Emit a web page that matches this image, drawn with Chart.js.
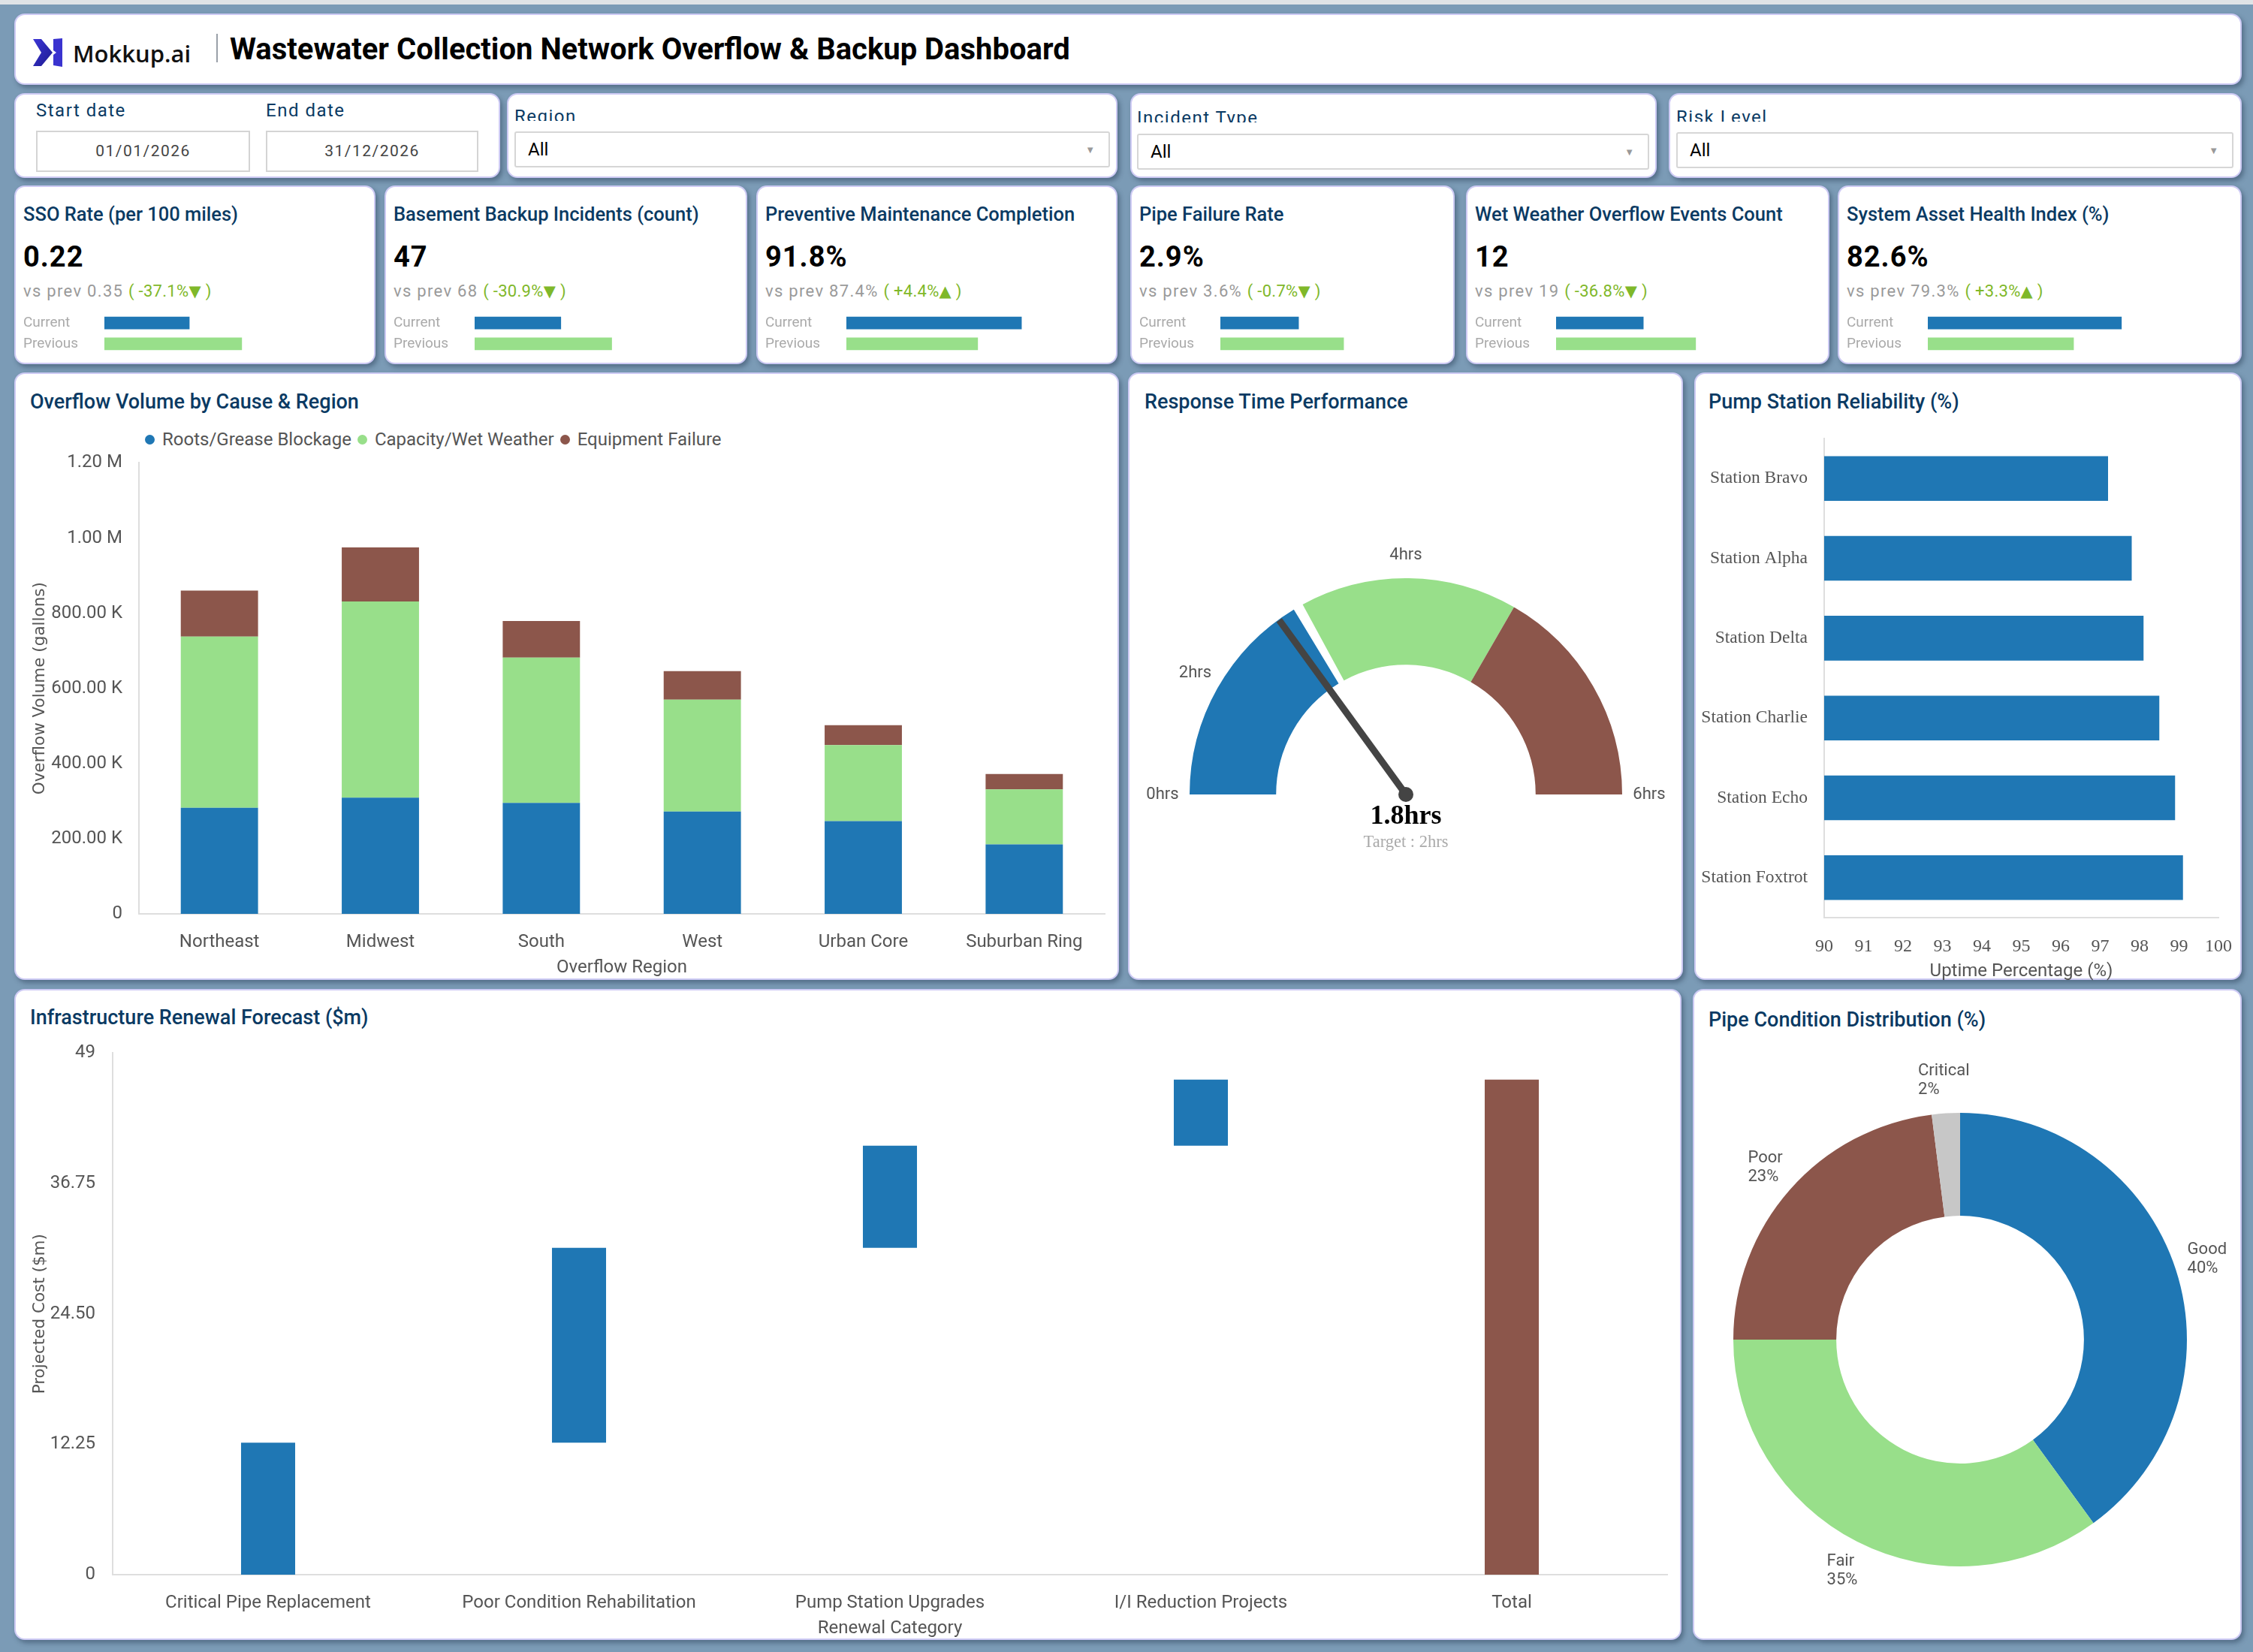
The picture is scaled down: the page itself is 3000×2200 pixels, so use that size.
<!DOCTYPE html>
<html>
<head>
<meta charset="utf-8">
<title>Wastewater Collection Network Overflow &amp; Backup Dashboard</title>
<script src="https://cdn.jsdelivr.net/npm/chart.js@4.4.1/dist/chart.umd.min.js"></script>
<style>
  body { margin: 0; width: 3000px; height: 2200px; position: relative; overflow: hidden;
         background: #7b9bb6; font-family: Roboto, sans-serif; }
  .strip { position: absolute; left: 0; top: 0; width: 3000px; height: 6px; background: #dfe3e6; }
  .card { position: absolute; box-sizing: border-box; background: #fff; border-radius: 14px;
          border: 2px solid #cdcaf4; box-shadow: 3px 4px 6px rgba(35, 55, 80, .45); }
  .title { position: absolute; font-size: 27px; line-height: 30px; font-weight: 500; color: #0a3a63; white-space: nowrap; }
  canvas { position: absolute; }
  .flabel { position: absolute; font-size: 24px; line-height: 28px; letter-spacing: 1.5px; color: #0a3a63; white-space: nowrap; }
  .clip { height: 17px; line-height: 23px; overflow: hidden; }
  .datebox { position: absolute; box-sizing: border-box; height: 55px; border: 2px solid #d4d4d4;
             font-size: 21px; letter-spacing: 1.5px; color: #444; text-align: center; line-height: 51px; }
  .select { position: absolute; box-sizing: border-box; height: 48px; border: 2px solid #d6d6d6; border-radius: 3px;
            font-size: 24px; line-height: 44px; padding-left: 16px; color: #000; }
  .select span { position: absolute; right: 18px; top: 1px; font-size: 13px; color: #999; }
  .k-title { position: absolute; left: 10px; top: 22px; font-size: 25.5px; line-height: 28px; font-weight: 500; color: #0a3a63; white-space: nowrap; }
  .k-value { position: absolute; left: 10px; top: 71px; font-size: 38px; line-height: 44px; font-weight: 700; color: #000; letter-spacing: 1px; }
  .k-prev { position: absolute; left: 10px; top: 126px; font-size: 22px; line-height: 26px; color: #9a9a9a; letter-spacing: 1.3px; white-space: nowrap; }
  .k-chg { color: #7fb82a; letter-spacing: 0.3px; }
  .k-chg b { font-family: 'DejaVu Sans'; font-weight: normal; font-size: 21px; }
  #overflowLegend { position: absolute; left: 189px; top: 571px; display: flex; align-items: center;
                    font-size: 24px; color: #555; white-space: nowrap; }
  #overflowLegend .dot { width: 13px; height: 13px; border-radius: 50%; margin: 0 10px 0 4px; }
  #overflowLegend .item { display: flex; align-items: center; margin-right: 4px; }
</style>
</head>
<body>
<div class="strip"></div>

<!-- header -->
<div class="card" style="left:19px; top:18px; width:2966px; height:95px;">
  <svg style="position:absolute; left:23px; top:31px;" width="40" height="38" viewBox="0 0 40 38">
    <defs>
      <linearGradient id="lg" x1="0" y1="0" x2="1" y2="1">
        <stop offset="0" stop-color="#3d36d6"/><stop offset="1" stop-color="#1c1a8f"/>
      </linearGradient>
    </defs>
    <path d="M0 1 L11 1 L26 19 L11 37 L0 37 L11 19 Z" fill="url(#lg)"/>
    <path d="M27 1 L39 0 L39 38 L27 36 L27 22 L31 19 L27 16 Z" fill="#3a33cf"/>
  </svg>
  <div style="position:absolute; left:76px; top:32px; font-family:'Open Sans'; font-weight:600; font-size:31px; line-height:38px; color:#111;">Mokkup.ai</div>
  <div style="position:absolute; left:267px; top:25px; width:2px; height:38px; background:#9aa0a8;"></div>
  <div style="position:absolute; left:285px; top:22px; font-size:40px; line-height:48px; font-weight:700; color:#000; white-space:nowrap;">Wastewater Collection Network Overflow &amp; Backup Dashboard</div>
</div>

<!-- filters -->
<div class="card" style="left:19px; top:124px; width:647px; height:113px;">
  <div class="flabel" style="left:27px; top:7px;">Start date</div>
  <div class="flabel" style="left:333px; top:7px;">End date</div>
  <div class="datebox" style="left:27px; top:48px; width:285px;">01/01/2026</div>
  <div class="datebox" style="left:333px; top:48px; width:283px;">31/12/2026</div>
</div>
<div class="card" style="left:675px; top:124px; width:813px; height:113px;">
  <div class="flabel clip" style="left:8px; top:18px;">Region</div>
  <div class="select" style="left:8px; top:49px; width:793px;">All<span>&#9660;</span></div>
</div>
<div class="card" style="left:1505px; top:124px; width:701px; height:113px;">
  <div class="flabel clip" style="left:7px; top:20px;">Incident Type</div>
  <div class="select" style="left:7px; top:52px; width:682px;">All<span>&#9660;</span></div>
</div>
<div class="card" style="left:2222px; top:124px; width:763px; height:113px;">
  <div class="flabel clip" style="left:8px; top:19px;">Risk Level</div>
  <div class="select" style="left:8px; top:50px; width:742px;">All<span>&#9660;</span></div>
</div>

<!-- KPI cards -->
<div class="card kpi" style="left:19px; top:247px; width:481px; height:238px;"></div>
<div class="card kpi" style="left:512px; top:247px; width:483px; height:238px;"></div>
<div class="card kpi" style="left:1007px; top:247px; width:481px; height:238px;"></div>
<div class="card kpi" style="left:1505px; top:247px; width:432px; height:238px;"></div>
<div class="card kpi" style="left:1952px; top:247px; width:484px; height:238px;"></div>
<div class="card kpi" style="left:2447px; top:247px; width:538px; height:238px;"></div>

<!-- chart cards -->
<div class="card" style="left:19px; top:496px; width:1471px; height:809px;">
  <div class="title" style="left:19px; top:22px;">Overflow Volume by Cause &amp; Region</div>
</div>
<div class="card" style="left:1502px; top:496px; width:739px; height:809px;">
  <div class="title" style="left:20px; top:22px;">Response Time Performance</div>
</div>
<div class="card" style="left:2256px; top:496px; width:729px; height:809px;">
  <div class="title" style="left:17px; top:22px;">Pump Station Reliability (%)</div>
</div>
<div class="card" style="left:19px; top:1317px; width:2220px; height:867px;">
  <div class="title" style="left:19px; top:21px;">Infrastructure Renewal Forecast ($m)</div>
</div>
<div class="card" style="left:2254px; top:1317px; width:731px; height:867px;">
  <div class="title" style="left:19px; top:24px;">Pipe Condition Distribution (%)</div>
</div>

<div id="overflowLegend"></div>
<canvas id="overflowChart" width="1450" height="723" style="left:30px; top:580px;"></canvas>
<canvas id="gaugeChart" width="720" height="450" style="left:1512px; top:700px;"></canvas>
<canvas id="pumpChart" width="746" height="760" style="left:2250px; top:548px;"></canvas>
<canvas id="renewalChart" width="2200" height="818" style="left:30px; top:1365px;"></canvas>
<canvas id="conditionChart" width="760" height="800" style="left:2230px; top:1384px;"></canvas>

<script>
const blue = '#1f77b4', green = '#98df8a', brown = '#8c564b', grey = '#c7c7c7';

// KPI cards
const kpiTitles = ['SSO Rate (per 100 miles)', 'Basement Backup Incidents (count)', 'Preventive Maintenance Completion',
                   'Pipe Failure Rate', 'Wet Weather Overflow Events Count', 'System Asset Health Index (%)'];
const kpiValues = ['0.22', '47', '91.8%', '2.9%', '12', '82.6%'];
const kpiPrev = ['0.35', '68', '87.4%', '3.6%', '19', '79.3%'];
const kpiChange = ['-37.1%', '-30.9%', '+4.4%', '-0.7%', '-36.8%', '+3.3%'];
// mini bars, filled share of the bar track (%)
const kpiCurrentBar = [32.4, 32.7, 66.8, 34.7, 33.0, 63.5];
const kpiPreviousBar = [52.4, 52.0, 50.1, 54.7, 52.8, 47.8];

// overflow volume (gallons)
const regions = ['Northeast', 'Midwest', 'South', 'West', 'Urban Core', 'Suburban Ring'];
const rootsGrease = [282000, 309000, 295000, 272000, 247000, 185000];
const capacityWet = [456000, 522000, 387000, 298000, 202000, 146000];
const equipFailure = [122000, 144000, 97000, 76000, 53000, 41000];

// response time gauge (hrs)
const responseBands = [1.96, 0.09, 1.95, 2];   // blue, gap, green, brown
const responseBandColors = [blue, 'rgba(0,0,0,0)', green, brown];
const responseTicks = ['0hrs', '2hrs', '4hrs', '6hrs'];
const responseTickAt = [0, 1, 3, 6];
const responseActual = 1.8;
const responseTarget = 2;
const responseMax = 6;

// pump station uptime (%)
const stations = ['Station Bravo', 'Station Alpha', 'Station Delta', 'Station Charlie', 'Station Echo', 'Station Foxtrot'];
const uptime = [97.2, 97.8, 98.1, 98.5, 98.9, 99.1];

// renewal forecast ($m)
const renewalCats = ['Critical Pipe Replacement', 'Poor Condition Rehabilitation', 'Pump Station Upgrades', 'I/I Reduction Projects', 'Total'];
const renewalSteps = [12.4, 18.3, 9.6, 6.2];

// pipe condition (%)
const conditionLabels = ['Good', 'Fair', 'Poor', 'Critical'];
const conditionPct = [40, 35, 23, 2];

Chart.defaults.font.family = 'Roboto, sans-serif';
Chart.defaults.color = '#555';
Chart.defaults.animation = false;
Chart.defaults.responsive = false;
Chart.defaults.plugins.legend.display = false;
Chart.defaults.plugins.tooltip.enabled = false;

const axisLine = { display: true, color: '#dedede', width: 2 };
const noGrid = { display: false, drawTicks: false };

// KPI cards with their mini bar charts
document.querySelectorAll('.kpi').forEach((card, i) => {
    const down = kpiChange[i].startsWith('-');
    card.innerHTML = `
        <div class="k-title">${kpiTitles[i]}</div>
        <div class="k-value">${kpiValues[i]}</div>
        <div class="k-prev">vs prev ${kpiPrev[i]} <span class="k-chg">( ${kpiChange[i]}<b>${down ? '▼' : '▲'}</b> )</span></div>
    `;
    const cv = document.createElement('canvas');
    cv.width = card.offsetWidth - 24;
    cv.height = 78;
    cv.style.left = '10px';
    cv.style.top = '156px';
    card.appendChild(cv);

    new Chart(cv, {
        type: 'bar',
        data: {
            labels: ['Current', 'Previous'],
            datasets: [{ data: [kpiCurrentBar[i], kpiPreviousBar[i]], backgroundColor: [blue, green], barThickness: 16 }]
        },
        options: {
            indexAxis: 'y',
            layout: { padding: 0 },
            scales: {
                x: { display: false, min: 0, max: 100 },
                y: {
                    grid: noGrid, border: { display: false },
                    ticks: { crossAlign: 'far', padding: 0, color: '#aaa', font: { size: 19 } },
                    afterFit: s => { s.width = 108; }
                }
            }
        }
    });
});

// Overflow volume, stacked
function fmtGallons(v) {
    if (v === 0) return '0';
    if (v >= 1000000) return (v / 1000000).toFixed(2) + ' M';
    return (v / 1000).toFixed(2) + ' K';
}

const overflowChart = new Chart(document.getElementById('overflowChart'), {
    type: 'bar',
    data: {
        labels: regions,
        datasets: [
            { label: 'Roots/Grease Blockage', data: rootsGrease, backgroundColor: blue },
            { label: 'Capacity/Wet Weather', data: capacityWet, backgroundColor: green },
            { label: 'Equipment Failure', data: equipFailure, backgroundColor: brown }
        ]
    },
    options: {
        layout: { padding: { top: 0, right: 9 } },
        datasets: { bar: { categoryPercentage: 0.8, barPercentage: 0.6 } },
        scales: {
            x: {
                stacked: true, grid: noGrid, border: axisLine,
                ticks: { padding: 24, font: { size: 24 } },
                title: { display: true, text: 'Overflow Region', font: { size: 24 }, padding: 0 },
                afterFit: s => { s.height = 86; }
            },
            y: {
                stacked: true, min: 0, max: 1200000, grid: noGrid, border: axisLine,
                ticks: { stepSize: 200000, padding: 22, font: { size: 24 }, callback: fmtGallons },
                title: { display: true, text: 'Overflow Volume (gallons)', color: '#555',
                         font: { family: 'DejaVu Sans', size: 21.5 }, padding: 11 },
                afterFit: s => { s.width = 155; }
            }
        }
    }
});

document.getElementById('overflowLegend').innerHTML = overflowChart.data.datasets.map(d =>
    `<div class="item"><div class="dot" style="background:${d.backgroundColor}"></div>${d.label}</div>`
).join('');

// Response time gauge
const gaugeDecor = {
    id: 'gaugeDecor',
    afterDatasetsDraw(chart) {
        const { ctx } = chart;
        const arc = chart.getDatasetMeta(0).data[0];
        const cx = arc.x, cy = arc.y, R = arc.outerRadius;
        const toAngle = h => Math.PI + (h / responseMax) * Math.PI;

        ctx.save();
        ctx.fillStyle = '#555';
        ctx.font = '22px Roboto';
        ctx.textAlign = 'center';
        ctx.textBaseline = 'middle';
        responseTicks.forEach((t, i) => {
            const a = toAngle(responseTickAt[i]);
            const r = R + (i === 2 ? 31 : 36);
            ctx.fillText(t, cx + Math.cos(a) * r, cy + Math.sin(a) * r);
        });

        const a = toAngle(responseActual);
        ctx.strokeStyle = '#444';
        ctx.lineWidth = 9;
        ctx.beginPath();
        ctx.moveTo(cx, cy);
        ctx.lineTo(cx + Math.cos(a) * (R - 1), cy + Math.sin(a) * (R - 1));
        ctx.stroke();
        ctx.fillStyle = '#444';
        ctx.beginPath();
        ctx.arc(cx, cy, 10, 0, Math.PI * 2);
        ctx.fill();

        ctx.fillStyle = '#000';
        ctx.font = 'bold 36px "Liberation Serif"';
        ctx.fillText(responseActual + 'hrs', cx, cy + 30);
        ctx.fillStyle = '#aaa';
        ctx.font = '22.5px "Liberation Serif"';
        ctx.fillText('Target : ' + responseTarget + 'hrs', cx, cy + 64);
        ctx.restore();
    }
};

new Chart(document.getElementById('gaugeChart'), {
    type: 'doughnut',
    data: {
        labels: ['0-2', 'gap', '2-4', '4-6'],
        datasets: [{ data: responseBands, backgroundColor: responseBandColors, borderWidth: 0 }]
    },
    options: {
        rotation: -90,
        circumference: 180,
        cutout: '60%',
        layout: { padding: { left: 72, right: 72, top: 70, bottom: 92 } }
    },
    plugins: [gaugeDecor]
});

// Pump station reliability
new Chart(document.getElementById('pumpChart'), {
    type: 'bar',
    data: {
        labels: stations,
        datasets: [{ data: uptime, backgroundColor: blue, categoryPercentage: 0.8, barPercentage: 0.7 }]
    },
    options: {
        indexAxis: 'y',
        layout: { padding: 0 },
        scales: {
            x: {
                min: 90, max: 100, grid: noGrid, border: axisLine,
                ticks: { stepSize: 1, padding: 24, color: '#555', font: { family: 'Liberation Serif', size: 24 } },
                title: { display: true, text: 'Uptime Percentage (%)', font: { size: 24 }, padding: 0 },
                afterFit: s => { s.height = 86; }
            },
            y: {
                grid: noGrid, border: axisLine,
                ticks: { padding: 22, color: '#555', font: { family: 'Liberation Serif', size: 23.5 } },
                afterFit: s => { s.width = 179; }
            }
        }
    }
});

// Infrastructure renewal waterfall
let running = 0;
const renewalBars = renewalSteps.map(v => {
    const bar = [running, running + v];
    running += v;
    return bar;
});
renewalBars.push([0, running]);
const renewalColors = renewalBars.map((b, i) => i === renewalSteps.length ? brown : blue);

new Chart(document.getElementById('renewalChart'), {
    type: 'bar',
    data: {
        labels: renewalCats,
        datasets: [{ data: renewalBars, backgroundColor: renewalColors, categoryPercentage: 0.8, barPercentage: 0.2175 }]
    },
    options: {
        layout: { padding: { top: 0, right: 10 } },
        scales: {
            x: {
                grid: noGrid, border: axisLine,
                ticks: { padding: 24, font: { size: 24 } },
                title: { display: true, text: 'Renewal Category', font: { size: 24 }, padding: 0 },
                afterFit: s => { s.height = 86; }
            },
            y: {
                min: 0, max: 49, grid: noGrid, border: axisLine,
                ticks: { stepSize: 12.25, padding: 23, font: { size: 24 },
                         callback: v => Number.isInteger(v) ? String(v) : v.toFixed(2) },
                title: { display: true, text: 'Projected Cost ($m)', color: '#555',
                         font: { family: 'DejaVu Sans', size: 21.5 }, padding: 11 },
                afterFit: s => { s.width = 120; }
            }
        }
    }
});

// Pipe condition donut
const donutLabels = {
    id: 'donutLabels',
    afterDatasetsDraw(chart) {
        const { ctx } = chart;
        const values = chart.data.datasets[0].data;
        ctx.save();
        ctx.font = '22px Roboto';
        ctx.fillStyle = '#555';
        ctx.textAlign = 'left';
        ctx.textBaseline = 'middle';
        chart.getDatasetMeta(0).data.forEach((arc, i) => {
            const mid = (arc.startAngle + arc.endAngle) / 2;
            const r = arc.outerRadius * 1.145;
            const x = arc.x + Math.cos(mid) * r;
            const y = arc.y + Math.sin(mid) * r;
            const lines = [chart.data.labels[i], values[i] + '%'];
            const w = Math.max(...lines.map(t => ctx.measureText(t).width));
            lines.forEach((t, j) => ctx.fillText(t, x - w / 2, y + (j - 0.5) * 25));
        });
        ctx.restore();
    }
};

new Chart(document.getElementById('conditionChart'), {
    type: 'doughnut',
    data: {
        labels: conditionLabels,
        datasets: [{ data: conditionPct, backgroundColor: [blue, green, brown, grey], borderWidth: 0 }]
    },
    options: {
        cutout: '54.6%',
        layout: { padding: { left: 78, right: 78, top: 98, bottom: 98 } }
    },
    plugins: [donutLabels]
});
</script>
</body>
</html>
